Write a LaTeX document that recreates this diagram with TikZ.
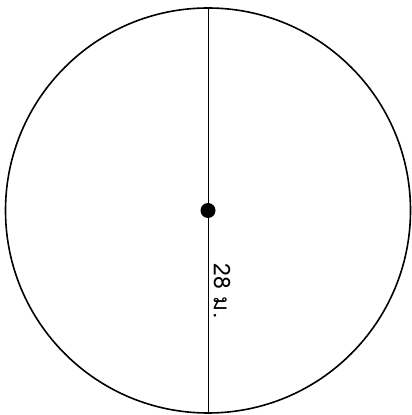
\documentclass[tikz,border=0pt]{standalone}
\usepackage{fontspec}
\newfontfamily\thaifont[Script=Thai]{Loma}

\begin{document}
\begin{tikzpicture}[x=1pt,y=1pt]
\useasboundingbox (0,0) rectangle (412,415);
\coordinate (c) at (208,204.5);
\coordinate (top) at (208,407);
\coordinate (bot) at (208,2);
\draw[line width=1.6pt] (c) circle (202.5);
\draw[line width=1pt] (top) -- (bot);
\fill (c) circle (7.5);
\node[rotate=-90,inner sep=0pt,font=\thaifont\fontsize{23}{27}\selectfont] (len) at (222,124) {28 ม.};
\end{tikzpicture}
\end{document}
